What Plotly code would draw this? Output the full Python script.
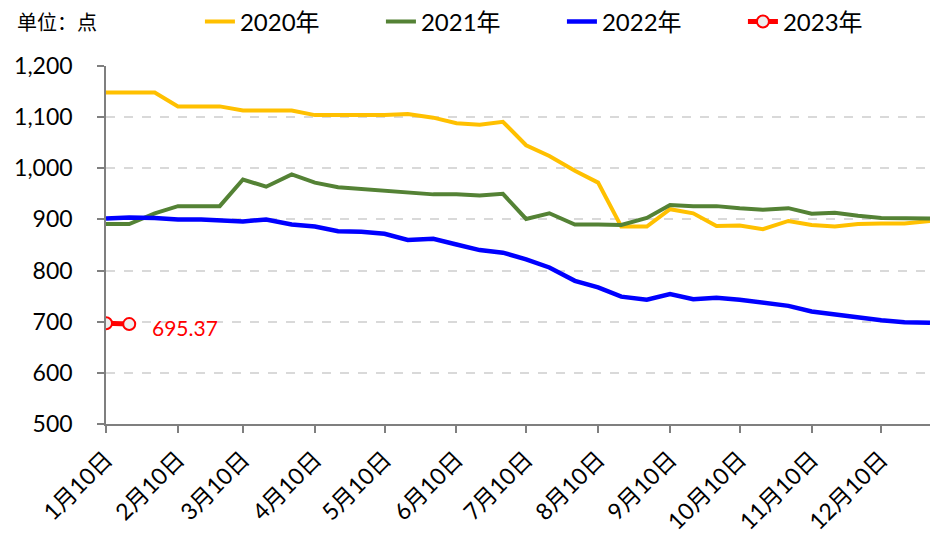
import calendar
import plotly.graph_objects as go

# ---- data ----
months = list(range(1, 13))
dates = []
for m in months:
    last = calendar.monthrange(2023, m)[1]
    for d in (10, 20, last):
        dates.append(f"2023-{m:02d}-{d:02d}")

tick_vals = [f"2023-{m:02d}-10" for m in months]
tick_text = [f"{m}月10日" for m in months]

y2020 = [1148, 1148, 1148, 1121, 1121, 1121, 1113, 1113, 1113, 1104, 1104, 1104,
         1104, 1106, 1099, 1088, 1085, 1091, 1045, 1024, 995, 972, 886, 886,
         920, 912, 887, 888, 881, 897, 889, 886, 891, 892, 892, 897]
y2021 = [891, 891, 912, 926, 926, 926, 978, 964, 988, 972, 963, 960,
         956, 953, 949, 949, 947, 950, 901, 912, 890, 890, 889, 903,
         928, 926, 926, 922, 919, 922, 911, 913, 907, 903, 902, 902]
y2022 = [902, 904, 903, 900, 900, 898, 896, 900, 890, 886, 877, 876,
         872, 860, 862, 851, 840, 835, 822, 806, 780, 767, 749, 743,
         754, 744, 747, 743, 737, 731, 720, 714, 707, 703, 699, 698]
y2023 = [697, 695.37]
series_names = ["2020年", "2021年", "2022年", "2023年"]

FONT = "Lato, 'Noto Sans CJK SC', sans-serif"

fig = go.Figure()
fig.add_trace(go.Scatter(x=dates, y=y2020, mode="lines", name=series_names[0],
                         line=dict(color="#FFC000", width=4)))
fig.add_trace(go.Scatter(x=dates, y=y2021, mode="lines", name=series_names[1],
                         line=dict(color="#548235", width=4)))
fig.add_trace(go.Scatter(x=dates, y=y2022, mode="lines", name=series_names[2],
                         line=dict(color="#0000FF", width=4.5)))
fig.add_trace(go.Scatter(x=dates[:len(y2023)], y=y2023, mode="lines+markers",
                         name=series_names[3],
                         line=dict(color="#FF0000", width=5),
                         marker=dict(size=12, color="#EEEEEE",
                                     line=dict(color="#FF0000", width=2))))

fig.add_annotation(x=dates[len(y2023) - 1], y=y2023[-1], text=f"{y2023[-1]:.2f}",
                   showarrow=False, xanchor="left", xshift=21, yshift=-3,
                   font=dict(color="#FF0000", size=21, family=FONT))
fig.add_annotation(xref="paper", yref="paper", x=-0.111, y=1.123,
                   text="单位：点", showarrow=False, xanchor="left", yanchor="middle",
                   font=dict(color="#000000", size=20, family=FONT))

fig.update_layout(
    width=930, height=541,
    margin=dict(l=106, r=0, t=66, b=117, autoexpand=False),
    plot_bgcolor="white", paper_bgcolor="white",
    font=dict(family=FONT, size=22, color="#000000"),
    showlegend=True,
    legend=dict(orientation="h", x=0.114, y=1.123, xanchor="left", yanchor="middle",
                entrywidth=136, entrywidthmode="pixels",
                font=dict(size=24, family=FONT), bgcolor="rgba(0,0,0,0)",
                itemclick=False),
)
fig.update_xaxes(
    type="date", range=["2023-01-10", "2023-12-31"], automargin=False,
    tickvals=tick_vals, ticktext=tick_text, tickangle=-45,
    showgrid=False, showline=True, linecolor="#7F7F7F", linewidth=1.5,
    ticks="outside", ticklen=7, tickcolor="#7F7F7F", tickwidth=1.5,
    tickfont=dict(size=23, family=FONT), ticklabelstandoff=4,
)
fig.update_yaxes(
    range=[500, 1200], dtick=100, tickformat=",", automargin=False,
    showgrid=True, gridcolor="#D9D9D9", griddash="dash", gridwidth=1.5,
    showline=True, linecolor="#7F7F7F", linewidth=1.5,
    ticks="outside", ticklen=7, tickcolor="#7F7F7F", tickwidth=1.5,
    tickfont=dict(size=23, family=FONT), zeroline=False, ticklabelstandoff=20,
)

post = ("document.body.style.margin='0';document.body.style.padding='0';"
        "document.body.style.overflow='hidden';"
        "var gd=document.getElementById('{plot_id}');"
        "Plotly.relayout(gd,{width:930,height:541});")
fig.write_html("out.html", post_script=post,
               config={"responsive": False, "displayModeBar": False})
